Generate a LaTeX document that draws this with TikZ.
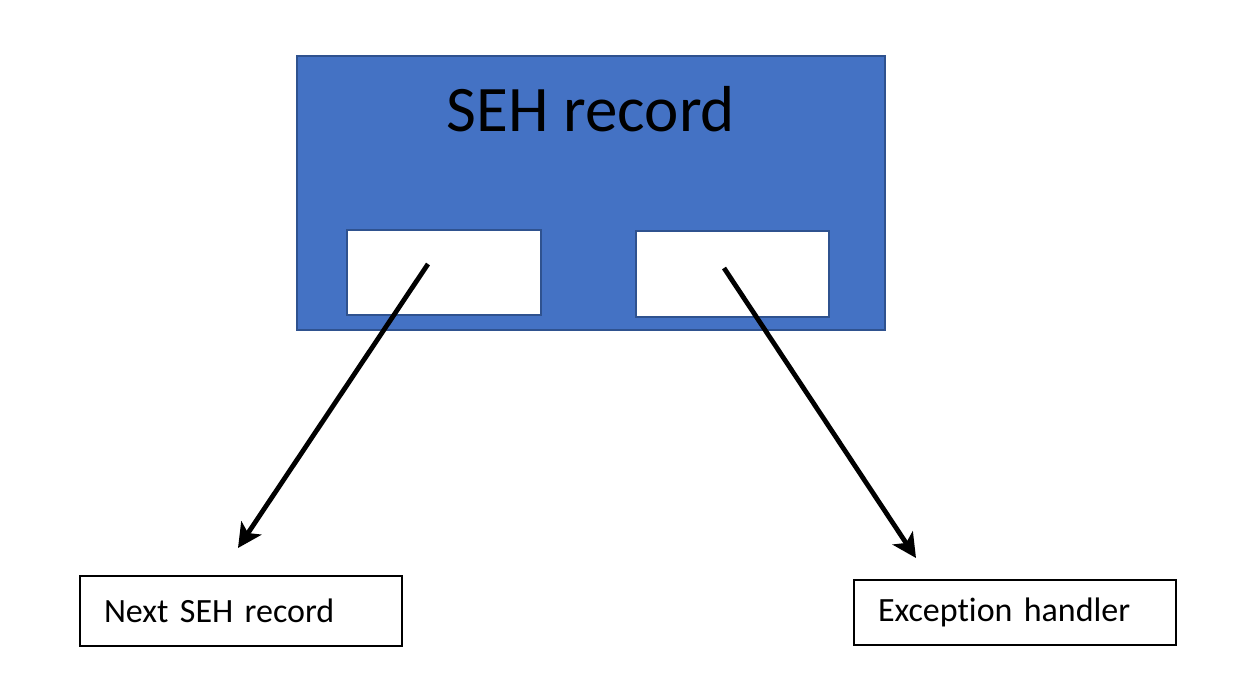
\documentclass[tikz,border=0pt]{standalone}
\usepackage{fontspec}
\setmainfont[Ligatures=NoCommon]{Carlito}
\usetikzlibrary{arrows.meta}
\definecolor{sehfill}{HTML}{4472C4}
\definecolor{sehline}{HTML}{2F528F}
\tikzset{
  outerbox/.style={draw=sehline, line width=1pt, fill=sehfill, minimum width=294pt, minimum height=137pt, inner sep=0pt},
  innerbox/.style={draw=sehline, line width=1.2pt, fill=white, inner sep=0pt},
  namebox/.style={draw=black, line width=0.8pt, fill=white, minimum width=161pt, inner xsep=12pt, text width=137pt, align=left, font=\fontsize{17}{20}\selectfont},
  ptr/.style={line width=2.4pt, -{Stealth[length=12pt,width=12pt,inset=3pt]}}
}
\begin{document}
\begin{tikzpicture}[x=0.5pt,y=-0.5pt]
\useasboundingbox (0,0) rectangle (1248,680);
\node[outerbox] (rec) at (591,193) {};
\node[font=\fontsize{32.5}{38}\selectfont, anchor=base] (title) at (591,131) {SEH record};
\node[innerbox, minimum width=97pt, minimum height=42.5pt] (nextf) at (444,272.5) {};
\node[innerbox, minimum width=96.5pt, minimum height=43pt] (handf) at (732.5,274) {};
\node[namebox, minimum height=35pt] (next) at (241,611) {Next SEH record};
\node[namebox, minimum height=32.5pt] (hand) at (1015,612.5) {Exception handler};
\coordinate (s1) at (428,264);
\coordinate (e1) at (238,548);
\coordinate (s2) at (724,268);
\coordinate (e2) at (916,558);
\draw[ptr] (s1) -- (e1);
\draw[ptr] (s2) -- (e2);
\end{tikzpicture}
\end{document}
